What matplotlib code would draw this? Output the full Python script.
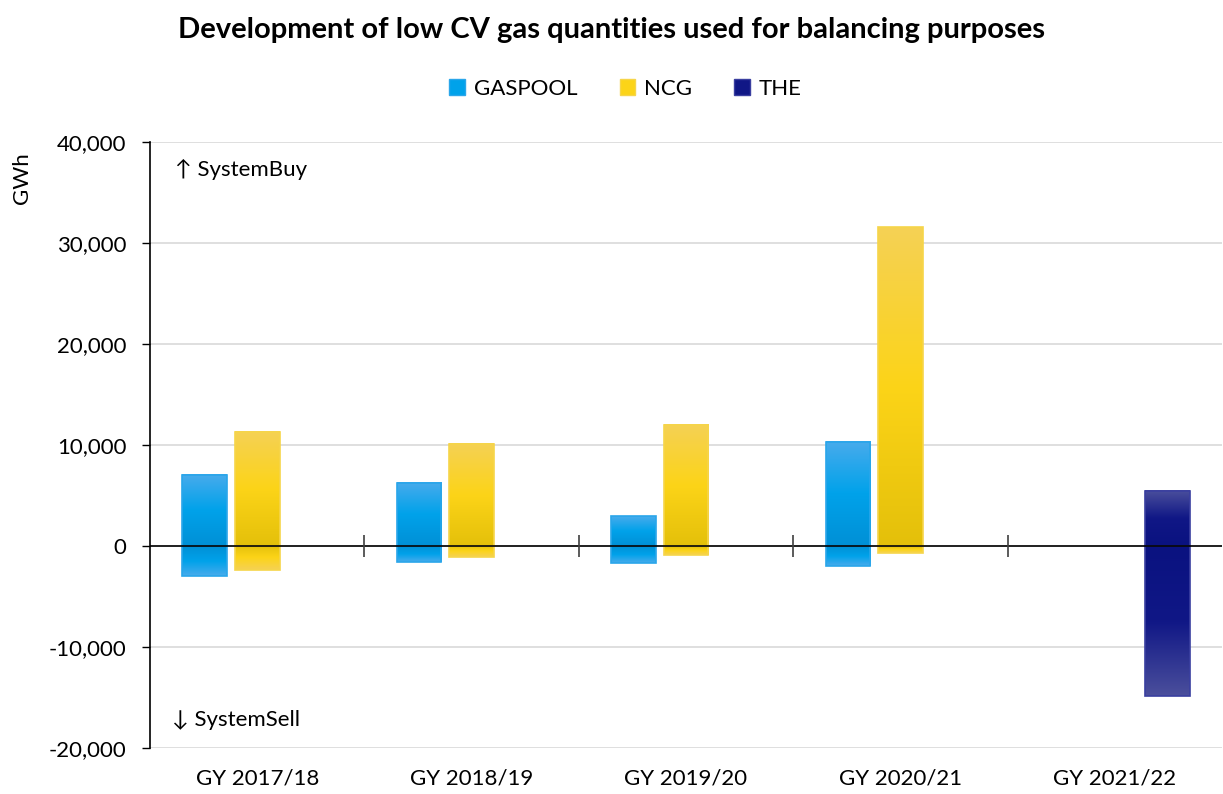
import matplotlib
matplotlib.use("Agg")
import matplotlib.pyplot as plt
import numpy as np
from matplotlib.colors import LinearSegmentedColormap
from matplotlib.patches import Patch
from matplotlib.ticker import FuncFormatter

plt.rcParams["font.family"] = ["Lato", "DejaVu Sans"]

years = ["GY 2017/18", "GY 2018/19", "GY 2019/20", "GY 2020/21", "GY 2021/22"]
series = ["GASPOOL", "NCG", "THE"]
# SystemBuy (positive) and SystemSell (negative) quantities, GWh; None = no bar
buy = {
    "GASPOOL": [7030, 6240, 2970, 10300, None],
    "NCG": [11290, 10100, 11980, 31580, None],
    "THE": [None, None, None, None, 5450],
}
sell = {
    "GASPOOL": [-2970, -1580, -1680, -1980, None],
    "NCG": [-2380, -1090, -890, -690, None],
    "THE": [None, None, None, None, -14850],
}

# light (outer end) -> mid -> dark (at zero)
shades = {
    "GASPOOL": ["#48abec", "#00a2ea", "#0090d6"],
    "NCG": ["#f5d155", "#fcd418", "#e4c00a"],
    "THE": ["#4b4f9c", "#101786", "#0a1280"],
}
edges = {"GASPOOL": "#2aa6ea", "NCG": "#f6d54a", "THE": "#3a3fa0"}

FS = 16

fig = plt.figure(figsize=(12.23, 7.94), dpi=100)
ax = fig.add_axes([0.1227, 0.0579, 0.8765, 0.7633])

x = np.arange(len(years))
offsets = {"GASPOOL": -0.245, "NCG": 0.0, "THE": 0.245}
width = 0.208

# row 0 sits at y=0 (dark), last row at the bar's outer end (light)
grad = np.linspace(1, 0, 256).reshape(-1, 1)
for s in series:
    cmap = LinearSegmentedColormap.from_list(s, shades[s])
    for vals in (buy[s], sell[s]):
        xs = [xi + offsets[s] for xi, v in zip(x, vals) if v is not None]
        hs = [v for v in vals if v is not None]
        bars = ax.bar(xs, hs, width=width, color="none", edgecolor=edges[s],
                      linewidth=1.2, zorder=3)
        for b in bars:
            x0, w, h = b.get_x(), b.get_width(), b.get_height()
            ax.imshow(grad, cmap=cmap, vmin=0, vmax=1, aspect="auto",
                      extent=[x0, x0 + w, 0, h], origin="lower", zorder=2,
                      interpolation="bicubic")

ax.set_xlim(-0.5, len(years) - 0.5)
ax.set_ylim(-20000, 40000)
ax.set_yticks(np.arange(-20000, 40001, 10000))
ax.yaxis.set_major_formatter(FuncFormatter(lambda v, p: f"{v:,.0f}"))
ax.grid(axis="y", color="#d9d9d9", linewidth=1.2, zorder=0)
ax.set_axisbelow(True)

ax.set_xticks(x)
ax.set_xticklabels(years)
ax.tick_params(axis="x", length=0, pad=15, labelsize=FS)
ax.tick_params(axis="y", length=6, width=1, pad=11, labelsize=FS)

for side in ("top", "right", "bottom"):
    ax.spines[side].set_visible(False)
ax.spines["left"].set_color("black")
ax.spines["left"].set_linewidth(1.2)

# zero line with category separators
ax.axhline(0, color="black", linewidth=1.2, zorder=4)
bounds = x[:-1] + 0.5
ax.plot(bounds, np.zeros_like(bounds), ls="none", marker="|", ms=16,
        mew=1.2, color="#404040", zorder=4)

ax.set_ylabel("GWh", fontsize=FS)
ax.yaxis.set_label_coords(-0.11, 0.94)

ax.text(0.023, 0.955, "↑ SystemBuy", transform=ax.transAxes, fontsize=FS,
        va="center", ha="left")
ax.text(0.020, 0.047, "↓ SystemSell", transform=ax.transAxes, fontsize=FS,
        va="center", ha="left")

fig.suptitle("Development of low CV gas quantities used for balancing purposes",
             x=0.5, y=0.978, fontsize=21, fontweight="bold")

handles = [Patch(facecolor=shades[s][1], edgecolor=edges[s]) for s in series]
fig.legend(handles, series, loc="center", bbox_to_anchor=(0.5115, 0.888), ncol=3,
           frameon=False, fontsize=FS, handlelength=0.7, handleheight=0.7,
           handletextpad=0.4, columnspacing=1.9)

fig.savefig("out.png", dpi=100)
